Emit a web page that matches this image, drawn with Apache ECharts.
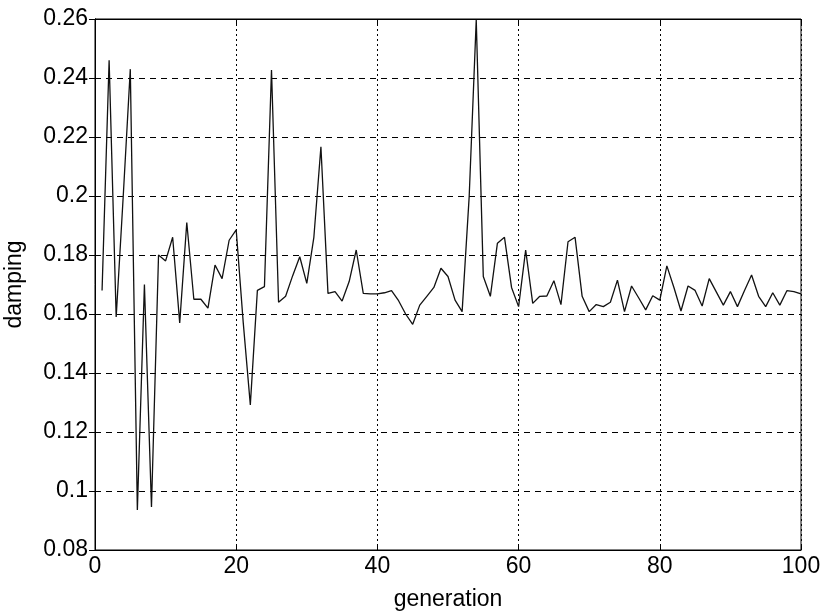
<!DOCTYPE html>
<html>
<head>
<meta charset="utf-8">
<script src="https://cdn.jsdelivr.net/npm/echarts@6/dist/echarts.min.js"></script>
<style>html,body{margin:0;padding:0;background:#fff;}#c{width:827px;height:616px;}</style>
</head>
<body>
<div id="c"></div>
<script>
const generations = [1,2,3,4,5,6,7,8,9,10,11,12,13,14,15,16,17,18,19,20,
  21,22,23,24,25,26,27,28,29,30,31,32,33,34,35,36,37,38,39,40,
  41,42,43,44,45,46,47,48,49,50,51,52,53,54,55,56,57,58,59,60,
  61,62,63,64,65,66,67,68,69,70,71,72,73,74,75,76,77,78,79,80,
  81,82,83,84,85,86,87,88,89,90,91,92,93,94,95,96,97,98,99,100];
const damping = [0.168,0.246,0.159,0.200,0.243,0.0936,0.170,0.0946,0.180,0.178,
  0.186,0.157,0.191,0.165,0.165,0.162,0.1766,0.172,0.185,0.1885,
  0.157,0.1292,0.168,0.1693,0.2427,0.164,0.166,0.173,0.1794,0.1704,
  0.186,0.2167,0.167,0.1676,0.1644,0.171,0.1817,0.167,0.1668,0.1668,
  0.1672,0.1679,0.1645,0.160,0.1565,0.163,0.166,0.169,0.1755,0.1727,
  0.1647,0.1608,0.1998,0.2597,0.1727,0.166,0.184,0.186,0.169,0.1625,
  0.1817,0.1636,0.166,0.1661,0.1713,0.1632,0.1845,0.186,0.166,0.1608,
  0.1632,0.1625,0.164,0.1715,0.1608,0.1695,0.1655,0.1614,0.1662,0.1647,
  0.1763,0.169,0.161,0.1695,0.168,0.1627,0.172,0.1675,0.163,0.1676,
  0.1625,0.168,0.1732,0.166,0.1625,0.1672,0.163,0.1679,0.1676,0.1668];
const xTicks = {min: 0, max: 100, step: 20};
const yTicks = {min: 0.08, max: 0.26, step: 0.02};

const font = 'Liberation Sans, Arial, sans-serif';
const fs = 23;
const chart = echarts.init(document.getElementById('c'), null, {renderer: 'canvas'});
const fmt = v => parseFloat(Number(v).toFixed(2)).toString();
chart.setOption({
  animation: false,
  backgroundColor: '#fff',
  grid: {left: 95, right: 26, top: 19, bottom: 66, containLabel: false, outerBoundsMode: 'none',
    show: true, borderColor: '#000', borderWidth: 1, backgroundColor: 'transparent'},
  xAxis: [{
    type: 'value', min: xTicks.min, max: xTicks.max, interval: xTicks.step,
    name: 'generation', nameLocation: 'middle', nameGap: 38,
    nameTextStyle: {color: '#000', fontFamily: font, fontSize: fs},
    axisLine: {show: true, onZero: false, lineStyle: {color: '#000', width: 1}},
    axisTick: {show: true, inside: true, length: 6, lineStyle: {color: '#000'}},
    axisLabel: {color: '#000', fontFamily: font, fontSize: fs, margin: 5},
    splitLine: {show: true, lineStyle: {color: '#000', width: 1, type: [2, 3]}}
  }, {
    type: 'value', position: 'top', min: xTicks.min, max: xTicks.max, interval: xTicks.step,
    axisLine: {show: true, lineStyle: {color: '#000'}},
    axisTick: {show: true, inside: true, length: 6, lineStyle: {color: '#000'}},
    axisLabel: {show: false}, splitLine: {show: false}
  }],
  yAxis: [{
    type: 'value', min: yTicks.min, max: yTicks.max, interval: yTicks.step,
    name: 'damping', nameLocation: 'middle', nameGap: 69,
    nameTextStyle: {color: '#000', fontFamily: font, fontSize: fs},
    axisLine: {show: true, onZero: false, lineStyle: {color: '#000', width: 1}},
    axisTick: {show: true, inside: true, length: 6, lineStyle: {color: '#000'}},
    axisLabel: {color: '#000', fontFamily: font, fontSize: fs, margin: 7, formatter: fmt},
    splitLine: {show: true, lineStyle: {color: '#000', width: 1, type: [6, 5]}}
  }, {
    type: 'value', position: 'right', min: yTicks.min, max: yTicks.max, interval: yTicks.step,
    axisLine: {show: true, lineStyle: {color: '#000'}},
    axisTick: {show: true, inside: true, length: 6, lineStyle: {color: '#000'}},
    axisLabel: {show: false}, splitLine: {show: false}
  }],
  series: [{
    type: 'line',
    data: generations.map((g, i) => [g, damping[i]]),
    showSymbol: false, smooth: false,
    lineStyle: {color: '#111', width: 1.3},
    clip: true
  }]
});
</script>
</body>
</html>
